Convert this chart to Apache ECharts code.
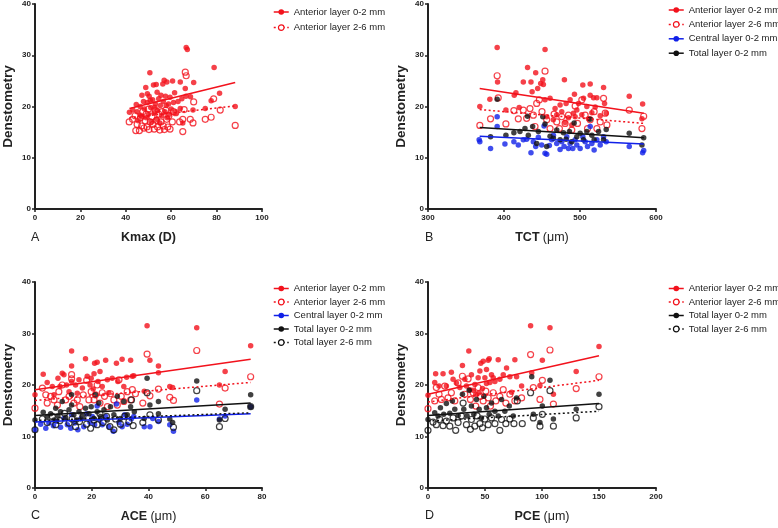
<!DOCTYPE html>
<html><head><meta charset="utf-8">
<script src="https://cdn.jsdelivr.net/npm/echarts@6/dist/echarts.min.js"></script>
<style>html,body{margin:0;padding:0;background:#fff}#c{width:778px;height:528px}</style>
</head><body><div id="c"></div>
<script>
// ---------- Panel A: Kmax (D) ----------
var A_ant02 = [[41.6,18.9],[43.1,19.3],[44.6,20.4],[45.5,17.2],[46.3,20.0],[46.5,18.3],[47.1,22.2],[47.8,21.0],[48.2,19.5],[48.8,23.7],[49.0,17.8],[49.5,20.8],[50.0,18.5],[50.3,22.0],[50.6,26.6],[51.0,19.8],[51.2,17.0],[51.8,21.3],[52.2,24.2],[52.5,18.8],[53.0,20.5],[53.4,24.3],[53.6,17.5],[54.0,19.2],[54.5,21.5],[55.0,16.8],[55.2,20.2],[55.8,18.2],[56.3,24.4],[56.5,21.0],[56.9,25.1],[57.2,19.0],[57.5,22.0],[58.1,24.8],[58.3,17.8],[58.8,20.5],[59.2,18.5],[59.5,21.8],[60.0,19.5],[60.6,25.0],[61.0,20.8],[61.5,22.7],[62.0,18.8],[63.0,21.0],[64.0,24.8],[64.0,19.6],[64.7,21.5],[65.1,16.8],[66.2,23.5],[66.5,22.0],[66.6,31.5],[67.1,31.1],[68.5,21.9],[69.6,19.3],[69.9,24.7],[75.0,19.6],[77.6,21.1],[78.9,27.6],[81.3,22.6],[88.2,20.0],[45.0,19.0],[47.0,18.0],[50.8,21.2],[52.8,19.8],[55.5,22.2],[57.8,20.2],[53.8,22.8],[49.5,22.5]];
var A_ant26 = [[41.5,17.0],[43.0,17.5],[44.1,18.2],[44.4,15.3],[45.0,16.5],[46.0,15.3],[46.5,17.8],[47.0,16.2],[47.5,19.0],[48.0,15.8],[48.5,17.2],[49.0,18.5],[49.3,16.0],[50.0,19.5],[50.2,15.5],[50.8,17.0],[51.5,18.0],[52.0,16.5],[52.5,15.6],[53.0,19.2],[53.5,17.3],[54.0,16.0],[54.5,18.5],[55.0,15.4],[55.5,17.0],[56.0,19.0],[56.5,16.2],[57.0,15.5],[57.6,19.3],[58.0,17.5],[58.5,16.0],[59.0,18.2],[59.5,15.6],[60.5,17.0],[61.0,19.0],[62.0,18.8],[63.7,17.0],[65.1,15.1],[65.1,17.5],[65.7,19.4],[66.2,26.7],[66.6,26.0],[68.4,17.5],[69.6,16.8],[69.9,20.9],[75.0,17.5],[77.6,17.9],[78.7,21.5],[81.6,19.3],[88.2,16.3]];
var A_fit_ant02 = [[41.6,19.6],[88.2,24.7]];
var A_fit_ant26 = [[41.6,17.8],[88.2,20.1]];

// ---------- Panel B: TCT (um) ----------
var B_ant02 = [[368.2,20.0],[381.4,21.4],[391,31.5],[391.5,24.8],[402.5,19.3],[413.5,22.2],[415.7,22.7],[420,19.8],[425.4,24.8],[431,27.6],[435.5,24.8],[437,22.9],[441.7,26.6],[444.3,23.5],[448.3,24.5],[451,25.2],[451.8,24.3],[454,31.1],[454,21.3],[460.6,21.6],[467.2,19.6],[473.8,20.3],[479.5,25.2],[481.7,20.6],[487,21.3],[491.4,18.7],[492.7,22.4],[498,20.6],[503.7,24.2],[504.6,21.6],[509,20.0],[513.4,24.4],[513.4,22.2],[517.8,21.7],[522.2,21.7],[531,23.7],[532.3,20.6],[534.5,18.7],[564.8,22.0],[582.4,20.5],[581.5,17.6],[456.2,18.0],[464.9,17.4],[469.4,18.4],[476,19.0],[480.4,16.9],[484.8,17.8],[489.2,16.4],[493.6,18.0],[495.8,19.3],[502.4,18.4],[511.2,17.6],[515.6,18.8],[520,19.9],[526.6,18.2]];
var B_ant26 = [[368.2,16.3],[382.3,17.6],[391,26.0],[392.4,21.7],[402.5,16.6],[413,19.2],[418.8,17.6],[425.4,19.3],[429.8,17.7],[434.2,19.6],[438.6,18.3],[440.8,16.1],[443,20.6],[446.5,21.3],[450,19.0],[454,26.9],[456.2,17.4],[460.6,15.7],[465.9,18.5],[469.4,17.0],[472.9,15.7],[476,18.0],[480.4,16.7],[484.8,18.3],[489.2,15.4],[493.6,20.1],[496.7,16.7],[502.4,21.3],[506.8,18.3],[509.9,15.7],[513.4,17.4],[518.6,19.0],[522.2,15.7],[526.6,17.0],[531,21.6],[533.2,18.7],[535.4,16.4],[564.8,19.3],[581.5,15.7],[583.8,18.1]];
var B_cen02 = [[368.2,13.1],[367.3,13.5],[382.3,11.8],[391,18.0],[391,16.1],[401.2,12.7],[413,13.1],[418.8,12.5],[425.4,13.5],[429.8,13.6],[435.5,11.0],[438.6,13.1],[441.7,12.2],[445.2,14.0],[449.6,12.5],[452.7,16.2],[454,10.9],[456.2,10.7],[459.7,12.4],[462.8,13.5],[465,14.4],[469.4,12.8],[473.8,11.6],[476,13.1],[479,12.2],[482.6,14.1],[484.8,11.8],[487,12.8],[490.5,11.8],[493.6,13.5],[495.8,12.5],[500.2,11.8],[503.7,14.1],[506.8,13.1],[509.9,12.2],[513.4,16.1],[515.6,12.8],[518.6,11.5],[522.2,13.5],[526.6,12.5],[531,14.1],[534.5,13.1],[564.8,12.2],[582.4,11.0],[583.8,11.4]];
var B_tot02 = [[382.3,14.1],[391,21.4],[402.5,14.4],[413,14.9],[421,15.1],[427.6,15.7],[432,14.4],[431,18.1],[437.7,16.1],[443,12.8],[445.2,15.1],[451,18.0],[454,16.6],[456.2,12.2],[460.6,14.2],[465,13.8],[469.4,15.4],[473.8,13.5],[478.2,14.9],[481.7,13.6],[486.1,15.1],[489.2,13.1],[492.3,16.8],[495.8,14.1],[500.2,14.8],[504.6,13.5],[509,15.1],[513.4,17.5],[515.6,14.4],[518.6,13.5],[524.4,15.1],[531,13.5],[534.5,15.5],[564.8,14.8],[581.5,12.5],[583.8,13.9]];
var B_fit_ant02 = [[368,23.5],[584,18.7]];
var B_fit_ant26 = [[368,19.4],[584,16.7]];
var B_fit_cen02 = [[368,14.2],[584,12.7]];
var B_fit_tot02 = [[368,15.9],[584,13.9]];

// ---------- Panel C: ACE (um) ----------
var C_ant02 = [[0,18.1],[2.9,22.1],[4.3,20.5],[6.1,19.7],[6.7,18.1],[8.1,21.3],[8.8,19.7],[9.6,22.3],[10.2,22.0],[11.1,20.0],[12.0,18.7],[12.9,26.6],[12.9,23.7],[12.9,20.7],[14.3,20.0],[14.9,18.4],[16.7,19.4],[17.8,25.1],[18.4,21.7],[19.4,20.0],[19.8,21.3],[20.8,22.2],[21.0,24.2],[21.9,24.4],[22.2,20.7],[22.9,22.6],[23.7,19.7],[24.9,24.8],[25.5,21.0],[27.2,21.3],[28.7,24.2],[29.2,20.7],[30.7,25.0],[31.3,19.7],[32.3,21.5],[33.7,24.8],[34.3,21.7],[34.8,21.8],[39.5,31.5],[40.5,24.8],[43.5,23.7],[43.5,22.4],[47.5,19.7],[48.5,19.5],[57,31.1],[65,20.0],[67,22.6],[76,27.6],[38.5,18.8],[26,18.5],[20.5,19.2],[15.5,21.0]];
var C_ant26 = [[0,15.5],[2.6,19.4],[3.8,18.1],[4.3,16.5],[5.5,17.8],[6.7,17.1],[7.9,16.1],[8.4,18.7],[9.6,20.0],[10.8,17.1],[12.0,17.8],[12.9,22.0],[12.9,21.2],[13.7,16.5],[14.9,17.1],[15.8,15.8],[17.0,18.1],[18.2,20.9],[19.0,17.1],[19.8,18.7],[20.8,17.1],[21.3,18.1],[21.9,20.0],[22.9,16.5],[23.7,18.5],[24.5,17.8],[25.5,15.8],[26.6,18.3],[27.8,17.1],[29.0,16.1],[29.6,21.0],[30.4,17.8],[31.3,16.8],[32.5,18.7],[33.7,17.1],[34.3,19.1],[35.4,18.3],[38.0,16.5],[39.5,26.0],[40.5,17.9],[43.5,19.2],[47.5,17.6],[48.8,17.0],[57,26.7],[65,16.3],[67,19.4],[76,21.6]];
var C_cen02 = [[0,11.3],[2,12.4],[3.8,11.6],[4.9,12.6],[6.5,12.1],[7.6,12.9],[9,11.8],[10.2,13.5],[11.4,12.3],[12.6,11.6],[12.9,14.2],[14.0,12.6],[15.1,11.3],[16.1,13.4],[17.2,11.9],[18.2,14.4],[19.4,12.7],[20.2,13.9],[21.0,12.3],[21.9,15.9],[22.9,13.2],[23.7,12.3],[24.9,13.9],[26.0,11.9],[27.6,11.0],[28.7,16.3],[29.6,12.7],[30.7,11.9],[31.6,14.2],[32.5,12.4],[33.9,13.4],[34.8,13.9],[38.5,11.9],[40.5,11.9],[41.5,13.5],[43.5,12.9],[47.5,12.3],[48.8,11.0],[57,17.1],[65,13.4],[67,14.0],[76,15.8]];
var C_tot02 = [[0,13.2],[2.9,14.7],[4.3,13.9],[5.5,14.4],[6.7,13.2],[7.3,15.5],[8.1,14.0],[9.0,14.8],[9.6,16.8],[10.8,13.7],[12.0,15.2],[12.9,18.1],[12.9,16.1],[13.7,14.2],[14.7,13.2],[15.5,14.8],[16.7,13.9],[17.8,15.5],[19.0,14.4],[19.8,15.8],[20.8,13.5],[21.3,18.1],[21.9,14.8],[22.5,16.5],[23.1,13.9],[24.3,15.2],[25.5,13.2],[26.6,15.8],[27.8,14.2],[29.0,17.8],[30.1,13.5],[31.3,16.8],[32.5,14.2],[33.7,15.8],[35,14.8],[38.5,13.5],[39.5,21.3],[40.5,16.1],[43.5,16.8],[43.5,14.4],[47.5,13.4],[48.5,12.7],[57,20.8],[65,13.2],[67,15.3],[76,18.1],[76,15.8]];
var C_tot26 = [[0,11.3],[2.6,13.4],[4.3,12.7],[6.1,13.9],[7.3,12.3],[8.8,13.1],[10.4,14.5],[12.0,12.6],[13.1,13.4],[14.3,11.9],[15.7,12.9],[16.9,13.9],[18.2,12.4],[19.6,11.6],[20.8,13.2],[21.9,12.3],[22.9,14.4],[24.0,12.7],[25.2,13.9],[26.4,11.9],[27.8,11.3],[28.4,13.4],[30.1,12.4],[31.6,13.9],[33.1,12.9],[34,17.1],[34.6,12.1],[38.0,12.7],[39.5,18.5],[40.5,14.2],[43.5,13.2],[48.8,11.8],[57,18.9],[65,11.9],[67,13.5],[76,15.8]];
var C_fit_ant02 = [[0,19.1],[76,25.0]];
var C_fit_ant26 = [[0,17.0],[76,20.5]];
var C_fit_cen02 = [[0,12.8],[76,14.4]];
var C_fit_tot02 = [[0,14.1],[76,16.5]];
var C_fit_tot26 = [[0,13.1],[76,14.6]];

// ---------- Panel D: PCE (um) ----------
var D_ant02 = [[0,18.0],[5.9,20.5],[6.7,22.2],[9.7,19.8],[13.2,22.2],[16.1,19.8],[20.5,22.5],[22,21.1],[24.9,20.4],[27.9,19.5],[30.2,23.8],[32.3,21.1],[35.8,26.6],[36.7,19.1],[38.1,22.0],[41.1,20.1],[44,21.4],[45.5,22.7],[46.3,24.2],[48.4,24.6],[49.9,21.4],[51.3,23.0],[52.8,24.8],[53.7,25.1],[55.7,22.0],[57.2,21.4],[61.6,24.9],[63,21.1],[66,22.0],[68.9,23.3],[71.8,21.6],[73.3,18.6],[76.2,24.9],[77.7,21.6],[82.1,19.8],[90,31.5],[91,22.4],[98.2,19.9],[100.3,24.8],[107,31.1],[110,18.2],[130,22.6],[150,27.5],[33.7,19.8],[39.6,19.0],[41.9,18.2],[44.9,18.5],[47.8,19.3],[51.3,20.3],[54.3,20.5],[58.7,20.7]];
var D_ant26 = [[0,15.4],[5.9,16.9],[7.3,19.5],[9.7,18.2],[11.7,17.2],[14.7,19.8],[17.6,17.5],[20.5,18.5],[23.5,16.9],[26.4,20.4],[30.2,21.7],[32.3,18.2],[35.2,21.2],[37.2,17.2],[39.6,18.5],[41.9,15.9],[44,19.5],[46,17.8],[48.4,16.9],[50.7,18.8],[52.8,17.5],[54.8,15.9],[57.2,18.5],[59.5,16.9],[63,17.8],[66,19.1],[68.3,16.5],[71.8,18.2],[76.2,16.9],[82.1,17.5],[90,25.9],[92.4,19.5],[98.2,17.2],[100.3,20.9],[107,26.8],[110,16.3],[130,19.3],[150,21.6]];
var D_tot02 = [[0,13.3],[5.9,14.6],[8.8,14.0],[10.9,15.6],[13.8,14.3],[16.1,16.4],[19.1,14.5],[21.4,16.9],[23.5,15.3],[26.4,14.1],[30.2,18.2],[31.4,15.3],[34.3,14.0],[36.1,19.0],[38.1,15.9],[40.2,14.3],[42.5,17.2],[44.9,15.3],[46.9,13.6],[49,17.8],[51.3,15.6],[53.7,14.3],[55.7,16.5],[58.7,14.9],[61.6,14.0],[64.5,17.2],[67.4,14.9],[71.3,15.9],[74.8,14.0],[77.7,17.5],[91,21.6],[92.4,14.3],[98.2,12.7],[100.3,15.9],[107,20.9],[110,13.4],[130,15.3],[150,18.2]];
var D_tot26 = [[0,11.2],[4.4,12.8],[7.3,12.3],[10.3,13.3],[13.2,12.1],[16.1,13.0],[19.1,12.0],[22,13.6],[24.3,11.2],[26.4,12.7],[29.3,14.0],[30.8,16.5],[33.7,12.3],[37.2,11.4],[38.1,13.3],[41.1,12.0],[43.1,14.0],[45.5,12.5],[47.8,11.7],[49.9,13.4],[52.8,12.3],[55.7,13.6],[58.7,12.5],[63,11.2],[64.5,13.3],[68.3,12.5],[71.8,13.4],[75.4,12.5],[78.3,16.9],[82.7,12.5],[90,18.5],[92.4,13.6],[98.2,12.0],[100.3,14.3],[107,18.9],[110,12.0],[130,13.6],[150,15.8]];
var D_fit_ant02 = [[0,18.2],[150,25.7]];
var D_fit_ant26 = [[0,16.7],[150,20.9]];
var D_fit_tot02 = [[0,14.1],[150,16.4]];
var D_fit_tot26 = [[0,13.0],[150,14.9]];

// axes: [min, max, interval]
var xRanges = [[0,100,20],[300,600,100],[0,80,20],[0,200,50]];
var yRange = [0,40,10];
var xNames = ['{b|Kmax (D)}','{b|TCT} {n|(\u03bcm)}','{b|ACE} {n|(\u03bcm)}','{b|PCE} {n|(\u03bcm)}'];
var yName = 'Denstometry';
var panelLetters = ['A','B','C','D'];

var NAMES = {
  ant02:'Anterior layer 0-2 mm', ant26:'Anterior layer 2-6 mm',
  cen02:'Central layer 0-2 mm', tot02:'Total layer 0-2 mm', tot26:'Total layer 2-6 mm'
};
var RED = '#f2121c', BLUE = '#1020e8', BLACK = '#111';
var STY = {
  ant02:{c:RED, open:false, dash:'solid'},
  ant26:{c:RED, open:true, dash:[2,2.5]},
  cen02:{c:BLUE, open:false, dash:'solid'},
  tot02:{c:BLACK, open:false, dash:'solid'},
  tot26:{c:BLACK, open:true, dash:[2,2.5]}
};
var FONT = 'Liberation Sans, Arial, Helvetica, sans-serif';

var panels = [
  {pts:{ant02:A_ant02, ant26:A_ant26}, fit:{ant02:A_fit_ant02, ant26:A_fit_ant26}, keys:['ant02','ant26']},
  {pts:{ant02:B_ant02, ant26:B_ant26, cen02:B_cen02, tot02:B_tot02}, fit:{ant02:B_fit_ant02, ant26:B_fit_ant26, cen02:B_fit_cen02, tot02:B_fit_tot02}, keys:['ant02','ant26','cen02','tot02']},
  {pts:{ant02:C_ant02, ant26:C_ant26, cen02:C_cen02, tot02:C_tot02, tot26:C_tot26}, fit:{ant02:C_fit_ant02, ant26:C_fit_ant26, cen02:C_fit_cen02, tot02:C_fit_tot02, tot26:C_fit_tot26}, keys:['ant02','ant26','cen02','tot02','tot26']},
  {pts:{ant02:D_ant02, ant26:D_ant26, tot02:D_tot02, tot26:D_tot26}, fit:{ant02:D_fit_ant02, ant26:D_fit_ant26, tot02:D_fit_tot02, tot26:D_fit_tot26}, keys:['ant02','ant26','tot02','tot26']}
];

var grids = [
  {left:35, top:4, width:227, height:205},
  {left:428, top:4, width:228, height:205},
  {left:34.5, top:282, width:227.5, height:206},
  {left:428, top:282, width:228, height:206}
];
var legendPos = [
  {left:273, top:6.5, gap:4.6},
  {left:668, top:4.5, gap:3.4},
  {left:273, top:283, gap:2.5},
  {left:668, top:283, gap:2.5}
];
var letterPos = [[31,231],[425,231],[31,509],[425,509]];

var xAxes = [], yAxes = [], series = [], legends = [], graphics = [];
var axisCommon = {
  axisLine:{show:true, onZero:false, lineStyle:{color:'#222', width:2}},
  axisTick:{show:true, length:3, lineStyle:{color:'#222', width:1.5}},
  splitLine:{show:false}
};
panels.forEach(function(p, i){
  var xr = xRanges[i];
  xAxes.push(Object.assign({}, axisCommon, {
    gridIndex:i, type:'value', min:xr[0], max:xr[1], interval:xr[2],
    axisLabel:{fontSize:8, fontWeight:'bold', color:'#222', margin:5, fontFamily:FONT},
    name:xNames[i], nameLocation:'middle', nameGap:22,
    nameTextStyle:{fontFamily:FONT, color:'#222', rich:{
      b:{fontSize:12.5, fontWeight:'bold', color:'#222', fontFamily:FONT},
      n:{fontSize:12.5, fontWeight:'normal', color:'#222', fontFamily:FONT}
    }}
  }));
  yAxes.push(Object.assign({}, axisCommon, {
    gridIndex:i, type:'value', min:yRange[0], max:yRange[1], interval:yRange[2],
    axisLabel:{fontSize:8, fontWeight:'bold', color:'#222', margin:4, fontFamily:FONT},
    name:yName, nameLocation:'middle', nameGap:20, nameRotate:90,
    nameTextStyle:{fontSize:13.5, fontWeight:'bold', color:'#222', fontFamily:FONT}
  }));
  p.keys.forEach(function(k){
    var s = STY[k];
    series.push({
      type:'scatter', name:'pts-'+i+'-'+k, xAxisIndex:i, yAxisIndex:i,
      data:p.pts[k], symbol:'circle', symbolSize: s.open ? 6 : 5.5,
      itemStyle: s.open ? {color:'rgba(255,255,255,0)', borderColor:s.c, borderWidth:1.2} : {color:s.c},
      z:2, silent:true
    });
  });
  p.keys.forEach(function(k){
    var s = STY[k];
    series.push({
      type:'line', name:NAMES[k], xAxisIndex:i, yAxisIndex:i,
      data:p.fit[k], showSymbol:false, symbol:'circle',
      lineStyle:{color:s.c, width:1.5, type:s.dash},
      itemStyle: s.open ? {color:'#fff', borderColor:s.c, borderWidth:1.2} : {color:s.c, borderColor:s.c},
      z:4, silent:true
    });
  });
  var lp = legendPos[i];
  legends.push({
    orient:'vertical', left:lp.left, top:lp.top, itemGap:lp.gap, padding:0,
    itemWidth:15, itemHeight:7, selectedMode:false,
    textStyle:{fontSize:9.5, color:'#222', fontFamily:FONT, lineHeight:11},
    data:p.keys.map(function(k){
      var s = STY[k];
      return {
        name:NAMES[k],
        itemStyle: s.open ? {color:'#fff', borderColor:s.c, borderWidth:1.2} : {color:s.c, borderColor:s.c, borderWidth:0},
        lineStyle:{color:s.c, width:1.5, type:s.dash}
      };
    })
  });
  graphics.push({type:'text', left:letterPos[i][0], top:letterPos[i][1],
    style:{text:panelLetters[i], fontSize:12.5, fill:'#222', fontFamily:FONT}});
});

var chart = echarts.init(document.getElementById('c'), null, {renderer:'canvas'});
chart.setOption({
  animation:false,
  backgroundColor:'#fff',
  grid:grids, xAxis:xAxes, yAxis:yAxes, series:series, legend:legends, graphic:graphics
});
</script></body></html>
